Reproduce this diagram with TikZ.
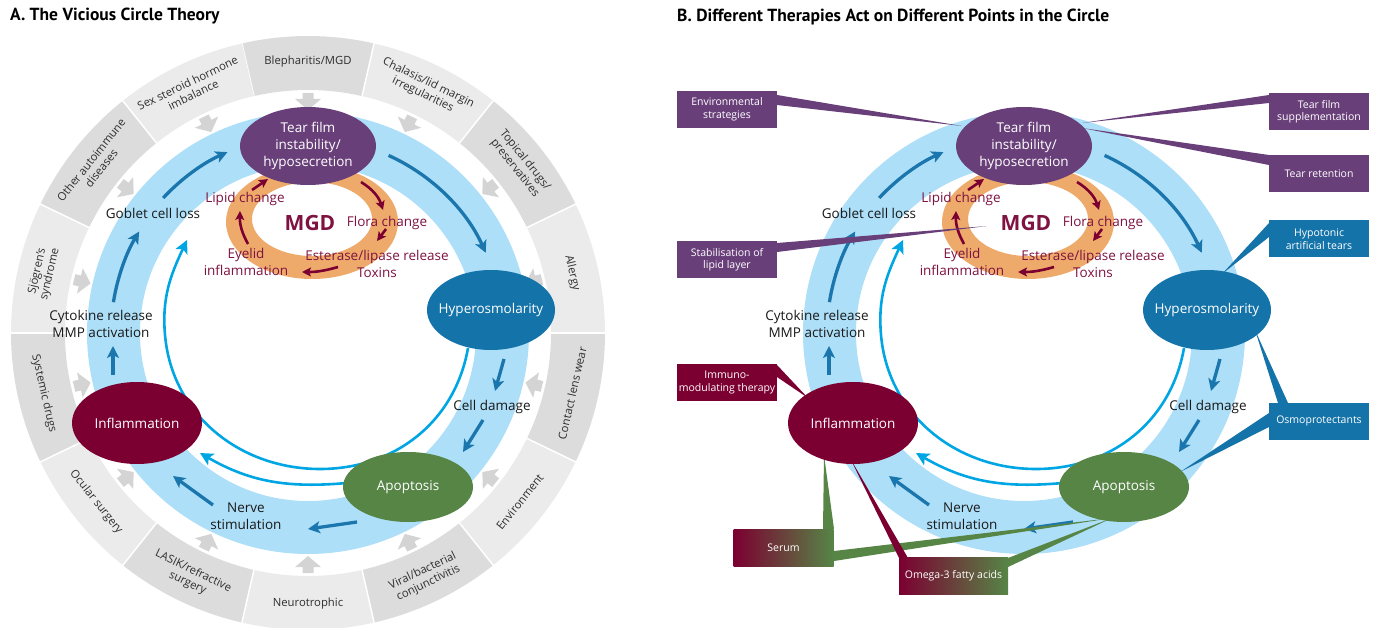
\documentclass[tikz,border=0pt]{standalone}
\usepackage{fontspec}
\setmainfont{Open Sans}
\newfontfamily\titlefont{PT Sans}
\usetikzlibrary{arrows.meta,calc,shapes.geometric}
\definecolor{ringA}{HTML}{DCDCDD}
\definecolor{ringB}{HTML}{EBEBEB}
\definecolor{garrow}{HTML}{D4D4D4}
\definecolor{band}{HTML}{ADDFF8}
\definecolor{darr}{HTML}{1A76AD}
\definecolor{cyanl}{HTML}{00A6E3}
\definecolor{tpurple}{HTML}{693F7A}
\definecolor{hblue}{HTML}{1473A9}
\definecolor{imaroon}{HTML}{7B0031}
\definecolor{agreen}{HTML}{568546}
\definecolor{morange}{HTML}{EEAA6B}
\definecolor{mtext}{HTML}{7E1241}
\definecolor{ringtext}{HTML}{2E2E2E}
\tikzset{
 darrow/.style={draw=darr, line width=3.3pt, -{Stealth[length=12pt,width=12pt,inset=3pt]}},
 marrow/.style={draw=imaroon, line width=2.6pt, -{Stealth[length=9pt,width=9pt,inset=2pt]}},
 cline/.style={draw=cyanl, line width=2.6pt},
 carrow/.style={cline, -{Stealth[length=13pt,width=13pt,inset=3pt]}},
 cnode/.style={ellipse, inner sep=0pt},
 ntext/.style={text=white, font=\fontsize{13.5}{17}\selectfont, align=center, inner sep=0pt},
 btext/.style={text=black!90, font=\fontsize{13.5}{17}\selectfont, align=center, inner sep=0pt},
 mgdtext/.style={text=mtext, font=\fontsize{13.5}{17}\selectfont, align=center, inner sep=0pt},
 ringlabel/.style={text=ringtext, font=\fontsize{11.3}{13}\selectfont, align=center, inner sep=0pt},
 callout/.style={minimum width=100pt, minimum height=37pt, inner sep=1pt, text=white, font=\fontsize{10.5}{12.5}\selectfont, align=center},
}
\newcommand\coreBack{%
  \fill[band, even odd rule] (308,-333) circle[radius=221] (308,-333) circle[radius=168];
  \draw[carrow] (468,-348) to[out=-100,in=0] (320,-469) to[out=180,in=-85] (165,-335) to[out=95,in=-115] (187,-240);
  \draw[carrow] (347,-483) to[out=185,in=-30] (200,-453);
  \begin{scope}[shift={(308,-333)}]
    \draw[darrow] (65.6:195) arc[start angle=65.6,end angle=24.3,radius=195];
    \draw[darrow] (137:198) arc[start angle=137,end angle=114,radius=198];
    \draw[darrow] (171:197) arc[start angle=171,end angle=149,radius=197];
  \end{scope}
  \draw[darrow] (113,-375) -- (113,-346);
  \draw[darrow] (504,-359) -- (495,-391);
  \draw[darrow] (483,-420) -- (463,-452);
  \draw[darrow] (357,-522) -- (308,-529);
  \draw[darrow] (213,-505) -- (173,-476);
  \node[btext] (celldmg) at (492,-407) {Cell damage};
  \node[btext] (nerve) at (246,-516) {Nerve\\stimulation};
  \node[btext] (cytok) at (101,-324) {Cytokine release\\MMP activation};
  \node[btext] (goblet) at (153,-213) {Goblet cell loss};
  \fill[morange, even odd rule] (312,-222) ellipse[x radius=86,y radius=57] (312,-219) ellipse[x radius=60,y radius=37];
  \draw[marrow] (252,-190) -- (268,-179);
  \draw[marrow] (361,-182) to[bend left=20] (383,-210);
  \draw[marrow] (386,-229) -- (377,-241);
  \draw[marrow] (338,-267) to[bend left=8] (302,-272);
  \draw[marrow] (248,-244) to[bend left=15] (240,-211);
  \node[text=mtext, font=\bfseries\fontsize{21}{24}\selectfont, inner sep=0pt] (mgd) at (310,-223) {MGD};
  \node[mgdtext] (lipid) at (245,-199) {Lipid change};
  \node[mgdtext] (flora) at (387,-223) {Flora change};
  \node[mgdtext] (ester) at (377,-263.5) {Esterase/lipase release\\Toxins};
  \node[mgdtext] (eyelid) at (246,-261.5) {Eyelid\\inflammation};
}
\newcommand\coreNodes{%
  \node[cnode, fill=tpurple, minimum width=136pt, minimum height=78pt] (tear) at (308,-146) {};
  \node[ntext] (teart) at (tear) {Tear film\\instability/\\hyposecretion};
  \node[cnode, fill=hblue, minimum width=128pt, minimum height=80pt] (hyper) at (491,-310) {};
  \node[ntext] (hypert) at (hyper) {Hyperosmolarity};
  \node[cnode, fill=imaroon, minimum width=130pt, minimum height=82pt] (infl) at (137,-423) {};
  \node[ntext] (inflt) at (infl) {Inflammation};
  \node[cnode, fill=agreen, minimum width=130pt, minimum height=70pt] (apo) at (408,-487) {};
  \node[ntext] (apot) at (apo) {Apoptosis};
}
\begin{document}
\begin{tikzpicture}[x=1pt,y=1pt]
\useasboundingbox (0,0) rectangle (1378,-628);
\node[anchor=west, inner sep=0pt, font=\titlefont\bfseries\fontsize{17.5}{20}\selectfont] (titleA) at (10,-16) {A. The Vicious Circle Theory};
\node[anchor=west, inner sep=0pt, font=\titlefont\bfseries\fontsize{17.5}{20}\selectfont] (titleB) at (677,-17) {B. Different Therapies Act on Different Points in the Circle};
% outer ring panel A
\begin{scope}[shift={(308,-333)}]
  \foreach \i in {0,...,13}{
    \pgfmathsetmacro\ca{90-\i*360/14+180/14}
    \pgfmathsetmacro\cb{90-\i*360/14-180/14}
    \pgfmathtruncatemacro\odd{mod(\i,2)}
    \ifnum\odd=0 \def\col{ringA}\else\def\col{ringB}\fi
    \fill[\col] (\ca:243) arc[start angle=\ca, end angle=\cb, radius=243] -- (\cb:297) arc[start angle=\cb,end angle=\ca,radius=297] -- cycle;
    \draw[white, line width=1.5pt] (\ca:242) -- (\ca:298);
    \pgfmathsetmacro\cc{90-\i*360/14}
    \pgfmathsetmacro\rr{\cc+180}
    \fill[garrow, shift={(\cc:240)}, rotate=\rr] (0,-5.5) -- (6,-5.5) -- (6,-13) -- (17,0) -- (6,13) -- (6,5.5) -- (0,5.5) -- cycle;
  }
  \foreach \i/\rot/\txt in {0/0/{Blepharitis/MGD}, 1/-25.71/{Chalasis/lid margin\\irregularities}, 2/-51.43/{Topical drugs/\\preservatives}, 3/-77.14/{Allergy}, 4/77.14/{Contact lens wear}, 5/51.43/{Environment}, 6/25.71/{Viral/bacterial\\conjunctivitis}, 7/0/{Neurotrophic}, 8/-25.71/{LASIK/refractive\\surgery}, 9/-51.43/{Ocular surgery}, 10/-77.14/{Systemic drugs}, 11/77.14/{Sjögren’s\\syndrome}, 12/51.43/{Other autoimmune\\diseases}, 13/25.71/{Sex steroid hormone\\imbalance}}{
    \pgfmathsetmacro\cc{90-\i*360/14}
    \node[ringlabel, rotate=\rot] (ring\i) at (\cc:271) {\txt};
  }
\end{scope}
\begin{scope}[name prefix=a-]
  \coreBack
  \coreNodes
\end{scope}
\begin{scope}[shift={(716,0)}, name prefix=b-]
  \coreBack
\end{scope}
% therapy wedges
\fill[tpurple] (777,-95) -- (777,-105) -- (962,-126) -- cycle;
\fill[tpurple] (777,-243) -- (777,-252) -- (987,-226) -- cycle;
\fill[tpurple] (1269,-95) -- (1269,-103) -- (1082,-123) -- cycle;
\fill[tpurple] (1269,-155) -- (1269,-165) -- (1082,-128) -- cycle;
\fill[hblue] (1269,-223) -- (1269,-237) -- (1222,-274) -- cycle;
\fill[hblue] (1278,-403) -- (1288,-403) -- (1255,-330) -- cycle;
\fill[hblue] (1269,-413) -- (1269,-427) -- (1180,-472) -- cycle;
\fill[imaroon] (777,-365) -- (777,-377) -- (808,-398) -- cycle;
\fill[agreen] (823,-529) -- (834,-529) -- (824,-455) -- cycle;
\fill[agreen] (834,-551) -- (834,-561) -- (1112,-518) -- cycle;
\fill[imaroon] (899,-558) -- (908,-558) -- (850,-458) -- cycle;
\fill[agreen] (1008,-558) -- (1008,-567) -- (1112,-518) -- cycle;
\begin{scope}[shift={(716,0)}, name prefix=b-]
  \coreNodes
\end{scope}
% therapy boxes
\node[callout, fill=tpurple] (env) at (727,-109.5) {Environmental\\strategies};
\node[callout, fill=tpurple] (stab) at (727,-259.5) {Stabilisation of\\lipid layer};
\node[callout, fill=tpurple] (tfs) at (1319,-111.5) {Tear film\\supplementation};
\node[callout, fill=tpurple] (tret) at (1319,-173.5) {Tear retention};
\node[callout, fill=hblue] (hypo) at (1319,-239) {Hypotonic\\artificial tears};
\node[callout, fill=hblue] (osmo) at (1319,-421) {Osmoprotectants};
\node[callout, fill=imaroon] (immuno) at (727,-382.5) {Immuno-\\modulating therapy};
\node[callout, left color=imaroon, right color=agreen] (serum) at (783.5,-547.5) {Serum};
\node[callout, minimum width=109pt, left color=imaroon, right color=agreen] (omega) at (953.5,-576) {Omega-3 fatty acids};
\end{tikzpicture}
\end{document}
